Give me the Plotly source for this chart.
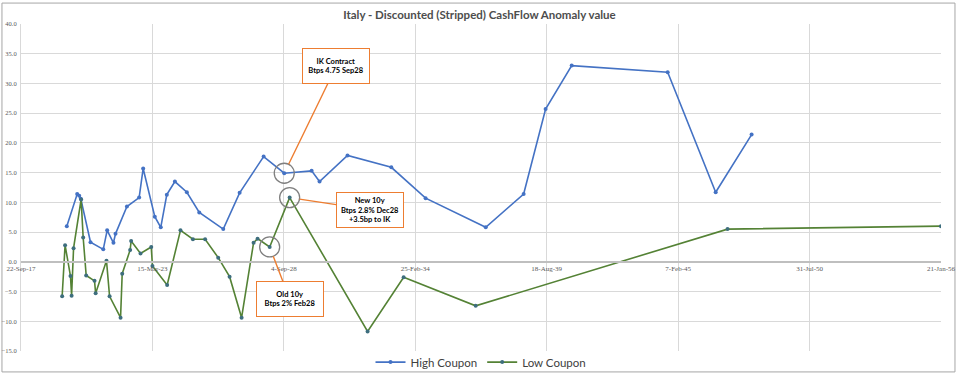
import plotly.graph_objects as go

high_dates = ['2019-08-20', '2020-01-25', '2020-02-25', '2020-03-20', '2020-08-15', '2021-02-25',
              '2021-04-25', '2021-07-30', '2021-08-30', '2022-02-20', '2022-08-25', '2022-10-25',
              '2023-04-20', '2023-07-20', '2023-10-20', '2024-02-20', '2024-08-20', '2025-02-25',
              '2026-02-25', '2026-11-01', '2027-11-01', '2028-09-10', '2029-11-01', '2030-03-01',
              '2031-05-01', '2033-02-25', '2034-08-01', '2037-02-01', '2038-09-01', '2039-08-01',
              '2040-09-01', '2044-09-01', '2046-09-01', '2048-03-01']
high_values = [6.0, 11.4, 11.1, 10.6, 3.3, 2.1, 5.3, 3.2, 4.7, 9.3, 10.8, 15.7,
               7.6, 5.8, 11.3, 13.5, 11.7, 8.3, 5.5, 11.6, 17.7, 14.9, 15.3, 13.5,
               17.9, 15.9, 10.7, 5.8, 11.4, 25.7, 33.0, 31.9, 11.7, 21.4]

low_dates = ['2019-06-10', '2019-07-25', '2019-10-15', '2019-11-01', '2019-12-01', '2020-03-25',
             '2020-04-25', '2020-06-10', '2020-10-15', '2020-11-01', '2021-04-15', '2021-06-01',
             '2021-11-15', '2021-12-10', '2022-04-10', '2022-04-25', '2022-09-15', '2023-02-25',
             '2023-03-15', '2023-10-25', '2024-05-15', '2024-11-20', '2025-05-25', '2025-12-10',
             '2026-06-01', '2026-12-01', '2027-06-01', '2027-08-01', '2028-02-01', '2028-12-01',
             '2032-03-01', '2033-09-01', '2036-09-01', '2047-03-01', '2056-01-20']
low_values = [-5.8, 2.8, -2.4, -5.7, 2.3, 10.5, 4.1, -2.3, -3.2, -5.3, 0.2, -5.8,
              -9.4, -2.0, 2.0, 3.5, 1.4, 2.5, -0.7, -3.9, 5.3, 3.8, 3.8, 0.7,
              -2.5, -9.4, 3.2, 3.9, 2.5, 10.8, -11.7, -2.6, -7.4, 5.5, 6.0]

series_names = ['High Coupon', 'Low Coupon']
title_text = 'Italy - Discounted (Stripped) CashFlow Anomaly value'
x_start, x_end = '2017-09-22', '2056-01-21'
y_min, y_max = -15, 40

ann_ik = ('IK Contract', 'Btps 4.75 Sep28')
ann_new = ('New 10y', 'Btps 2.8% Dec28', '+3.5bp to IK')
ann_old = ('Old 10y', 'Btps 2% Feb28')
ik_idx, old_idx, new_idx = 21, 28, 29

BLUE = '#4472C4'
GREEN = '#548235'
ORANGE = '#ED7D31'
GRID = '#D9D9D9'
TXT = '#595959'

fig = go.Figure()
fig.add_trace(go.Scatter(x=high_dates, y=high_values, name=series_names[0], mode='lines+markers',
                         line=dict(color=BLUE, width=1.6), marker=dict(color=BLUE, size=4)))
fig.add_trace(go.Scatter(x=low_dates, y=low_values, name=series_names[1], mode='lines+markers',
                         line=dict(color=GREEN, width=1.6), marker=dict(color='#3E6E7E', size=4)))

DAY_MS = 86400000
fig.update_layout(
    template='none',
    width=959, height=377,
    margin=dict(l=21, r=18, t=24, b=26, autoexpand=False),
    paper_bgcolor='white', plot_bgcolor='white',
    font=dict(family='Lato, Liberation Sans, sans-serif', color=TXT),
    title=dict(text='<b>' + title_text + '</b>', x=0.5, xanchor='center', y=0.96, yanchor='middle',
               font=dict(size=11.5, color='#4D4D4D', family='Lato, sans-serif')),
    showlegend=True,
    legend=dict(orientation='h', x=0.5, xanchor='center', y=-0.034, yanchor='middle',
                font=dict(size=11.5, color='#404040'), bgcolor='rgba(0,0,0,0)', itemwidth=30,
                tracegroupgap=0),
    xaxis=dict(type='date', range=[x_start, x_end], tick0=x_start, dtick=2000 * DAY_MS,
               tickformat='%-d-%b-%y', showgrid=True, gridcolor=GRID, gridwidth=1,
               anchor='free', position=(0 - y_min) / (y_max - y_min), automargin=False,
               showline=True, linecolor='#BFBFBF', linewidth=1.5, zeroline=False,
               tickfont=dict(size=7, color=TXT, family='Liberation Serif, serif'), ticks=''),
    yaxis=dict(range=[y_min, y_max], dtick=5, tickformat='.1f', showgrid=True, gridcolor=GRID,
               gridwidth=1, zeroline=False, showline=True, linecolor=GRID, automargin=False,
               tickfont=dict(size=6.5, color=TXT, family='Liberation Serif, serif'), ticks='',
               ticklabelstandoff=2),
)

# frame around the chart
fig.add_shape(type='rect', xref='paper', yref='paper', x0=-0.0207, x1=1.0152, y0=-0.064, y1=1.064,
              line=dict(color='#A6A6A6', width=1), layer='below')

# circles around highlighted points
for d, v in [(high_dates[ik_idx], high_values[ik_idx]),
             (low_dates[new_idx], low_values[new_idx]),
             (low_dates[old_idx], low_values[old_idx])]:
    fig.add_shape(type='circle', xref='x', yref='y', xsizemode='pixel', ysizemode='pixel',
                  xanchor=d, yanchor=v, x0=-10, x1=10, y0=-10, y1=10,
                  line=dict(color='#7F7F7F', width=1.3))

def box(d, v, lines, ax, ay):
    fig.add_annotation(x=d, y=v, xref='x', yref='y', ax=ax, ay=ay,
                       text='<br>'.join('<b>' + s + '</b>' for s in lines),
                       showarrow=True, arrowhead=0, arrowwidth=1.4, arrowcolor=ORANGE, standoff=10,
                       bordercolor=ORANGE, borderwidth=1, borderpad=4, bgcolor='white',
                       width=58, height=26,
                       font=dict(size=7.5, color='black', family='Lato, sans-serif'), align='center')

box(high_dates[ik_idx], high_values[ik_idx], ann_ik, 52, -107)
box(low_dates[new_idx], low_values[new_idx], ann_new, 80, 12)
box(low_dates[old_idx], low_values[old_idx], ann_old, 20, 52)

fig.write_html('out.html', config={'displayModeBar': False},
               post_script="document.body.style.margin='0';")
